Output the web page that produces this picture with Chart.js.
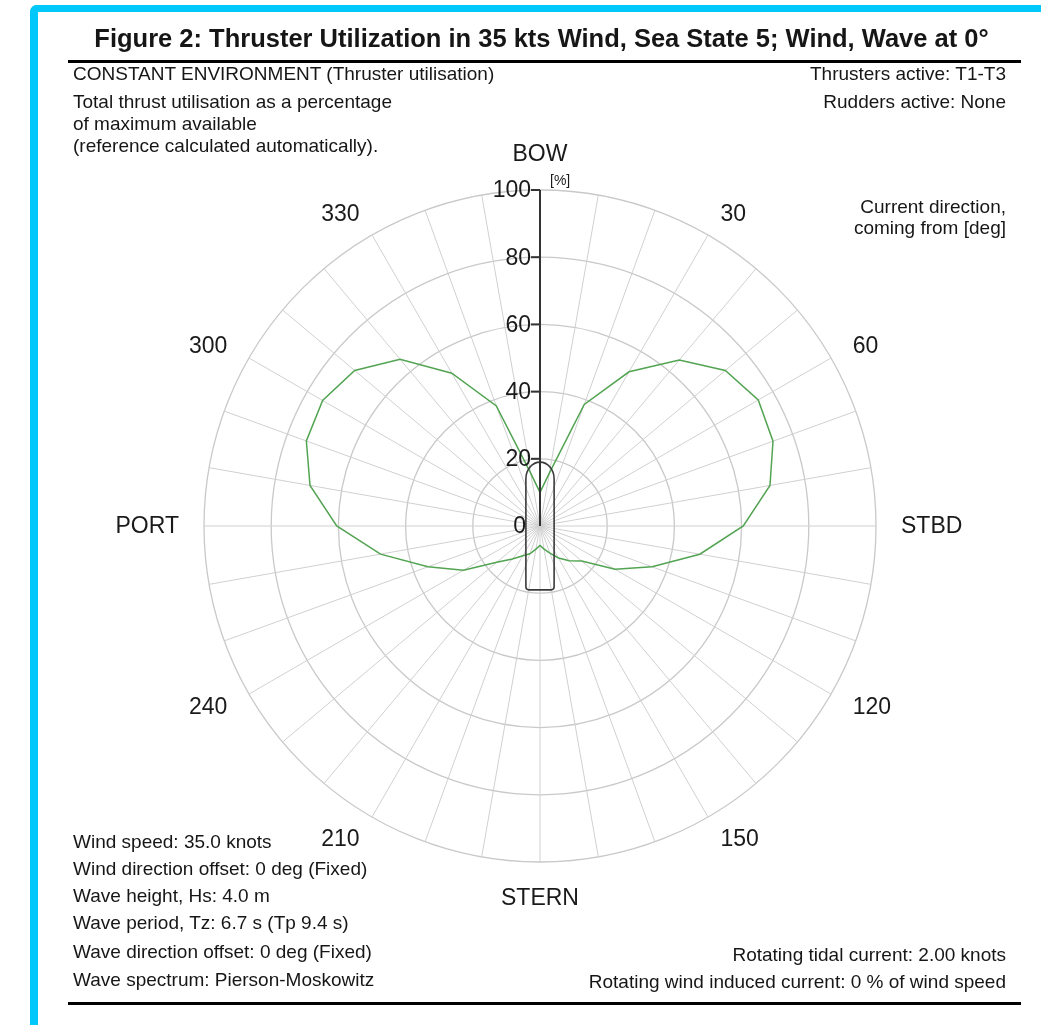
<!DOCTYPE html>
<html>
<head>
<meta charset="utf-8">
<script src="https://cdn.jsdelivr.net/npm/chart.js@4.4.1/dist/chart.umd.min.js"></script>
<style>
  html, body { margin: 0; padding: 0; background: #fff; width: 1041px; height: 1025px; overflow: hidden; }
  body { position: relative; font-family: "Liberation Sans", Arial, sans-serif; color: #161616; }
  #frame { position: absolute; left: 30px; top: 5px; width: 1100px; height: 1100px;
           border-left: 8px solid #00c8fa; border-top: 7px solid #00c8fa; border-top-left-radius: 7px; }
  #chart { position: absolute; left: 0; top: 0; }
  .t { position: absolute; white-space: nowrap; font-size: 19px; line-height: 22px; }
  .r { text-align: right; right: 35px; }
  .l { left: 73px; }
  .rule { position: absolute; left: 68px; width: 953px; height: 3px; background: #000; }
  #title { position: absolute; left: 0; width: 1083px; top: 24px; text-align: center; font-weight: bold; font-size: 25.5px; line-height: 28px; white-space: nowrap; }
</style>
</head>
<body>
<div id="frame"></div>
<canvas id="chart" width="1041" height="1025"></canvas>
<div id="title">Figure 2: Thruster Utilization in 35 kts Wind, Sea State 5; Wind, Wave at 0°</div>
<div class="rule" style="top:60px"></div>
<div class="t l" style="top:63px">CONSTANT ENVIRONMENT (Thruster utilisation)</div>
<div class="t l" style="top:91px">Total thrust utilisation as a percentage<br>of maximum available<br>(reference calculated automatically).</div>
<div class="t r" style="top:63px">Thrusters active: T1-T3</div>
<div class="t r" style="top:91px">Rudders active: None</div>
<div class="t r" style="top:196px; line-height:21px">Current direction,<br>coming from [deg]</div>
<div class="t l" style="top:831px">Wind speed: 35.0 knots</div>
<div class="t l" style="top:858px">Wind direction offset: 0 deg (Fixed)</div>
<div class="t l" style="top:885px">Wave height, Hs: 4.0 m</div>
<div class="t l" style="top:912px">Wave period, Tz: 6.7 s (Tp 9.4 s)</div>
<div class="t l" style="top:941px">Wave direction offset: 0 deg (Fixed)</div>
<div class="t l" style="top:969px">Wave spectrum: Pierson-Moskowitz</div>
<div class="t r" style="top:944px">Rotating tidal current: 2.00 knots</div>
<div class="t r" style="top:971px">Rotating wind induced current: 0 % of wind speed</div>
<div class="rule" style="top:1002px"></div>

<script>
// ---- data ----
const directions = [0, 10, 20, 30, 40, 50, 60, 70, 80, 90, 100, 110, 120, 130, 140, 150, 160, 170,
                    180, 190, 200, 210, 220, 230, 240, 250, 260, 270, 280, 290, 300, 310, 320, 330, 340, 350];
const utilisation = [10, 16, 38.5, 53, 64.5, 72, 75, 73.8, 69.5, 60.5, 48.3, 35.5, 25.8, 16.2, 13.5, 11, 8.6, 7,
                     5.8, 7, 8.8, 10.2, 12.8, 16.8, 26.3, 35.5, 48.2, 60.5, 69.5, 74, 74.7, 72, 64.8, 52.5, 38, 16];
const angleLabels = ['BOW', '', '', '30', '', '', '60', '', '', 'STBD', '', '', '120', '', '', '150', '', '',
                     'STERN', '', '', '210', '', '', '240', '', '', 'PORT', '', '', '300', '', '', '330', '', ''];
const radialTicks = [0, 20, 40, 60, 80, 100];
const radialUnit = '[%]';
// ship outline in % of radial scale
const SHIP = { halfWidth: 4.2, shoulder: 14, apex: 19, stern: 19 };

const overlay = {
  id: 'overlay',
  afterDatasetsDraw(chart) {
    const s = chart.scales.r;
    const ctx = chart.ctx;
    const cx = s.xCenter, cy = s.yCenter, R = s.drawingArea;
    const d = v => s.getDistanceFromCenterForValue(v);
    ctx.save();
    // ship outline
    const hw = d(SHIP.halfWidth), sh = d(SHIP.shoulder), ap = d(SHIP.apex), st = d(SHIP.stern);
    ctx.strokeStyle = '#3a3a3a';
    ctx.lineWidth = 1.6;
    ctx.beginPath();
    ctx.moveTo(cx - hw, cy - sh);
    ctx.ellipse(cx, cy - sh, hw, ap - sh, 0, Math.PI, 2 * Math.PI);
    ctx.lineTo(cx + hw, cy + st - 3);
    ctx.arcTo(cx + hw, cy + st, cx + hw - 3, cy + st, 3);
    ctx.lineTo(cx - hw + 3, cy + st);
    ctx.arcTo(cx - hw, cy + st, cx - hw, cy + st - 3, 3);
    ctx.closePath();
    ctx.stroke();
    // radial axis
    ctx.strokeStyle = '#333';
    ctx.lineWidth = 2;
    ctx.beginPath();
    ctx.moveTo(cx, cy);
    ctx.lineTo(cx, cy - d(100));
    ctx.stroke();
    ctx.fillStyle = '#1a1a1a';
    ctx.font = '23px "Liberation Sans", Arial, sans-serif';
    ctx.textAlign = 'right';
    ctx.textBaseline = 'middle';
    radialTicks.forEach(v => {
      const y = cy - d(v);
      if (v > 0) {
        ctx.beginPath();
        ctx.moveTo(cx - 9, y);
        ctx.lineTo(cx, y);
        ctx.stroke();
      }
      ctx.fillText(String(v), cx - (v > 0 ? 9 : 14), y + 1);
    });
    ctx.font = '14px "Liberation Sans", Arial, sans-serif';
    ctx.textAlign = 'left';
    ctx.fillText(radialUnit, cx + 10, cy - d(100) - 9);
    // angle labels
    ctx.font = '23px "Liberation Sans", Arial, sans-serif';
    const rr = R + 25;
    angleLabels.forEach((lab, i) => {
      if (!lab) return;
      const a = directions[i] * Math.PI / 180;
      const sn = Math.sin(a), cs = Math.cos(a);
      if (Math.abs(sn) < 0.01) {
        ctx.textAlign = 'center';
        ctx.fillText(lab, cx, cy - cs * (rr + 11) + 1);
      } else {
        ctx.textAlign = sn > 0 ? 'left' : 'right';
        ctx.fillText(lab, cx + sn * rr, cy - cs * rr + 1);
      }
    });
    ctx.restore();
  }
};

new Chart(document.getElementById('chart'), {
  type: 'radar',
  data: {
    labels: directions.map(String),
    datasets: [{
      data: utilisation,
      borderColor: '#52a452',
      borderWidth: 1.5,
      pointRadius: 0,
      pointHoverRadius: 0,
      fill: false,
      tension: 0
    }]
  },
  options: {
    responsive: false,
    animation: false,
    events: [],
    layout: { padding: { left: 204, top: 190, right: 165, bottom: 163 } },
    plugins: { legend: { display: false }, tooltip: { enabled: false } },
    scales: {
      r: {
        min: 0, max: 100,
        ticks: { display: false, stepSize: 20 },
        pointLabels: { display: false },
        grid: { circular: true, color: '#c9c9c9', lineWidth: 1.3 },
        angleLines: { color: '#d0d0d0', lineWidth: 1 }
      }
    }
  },
  plugins: [overlay]
});
</script>
</body>
</html>
